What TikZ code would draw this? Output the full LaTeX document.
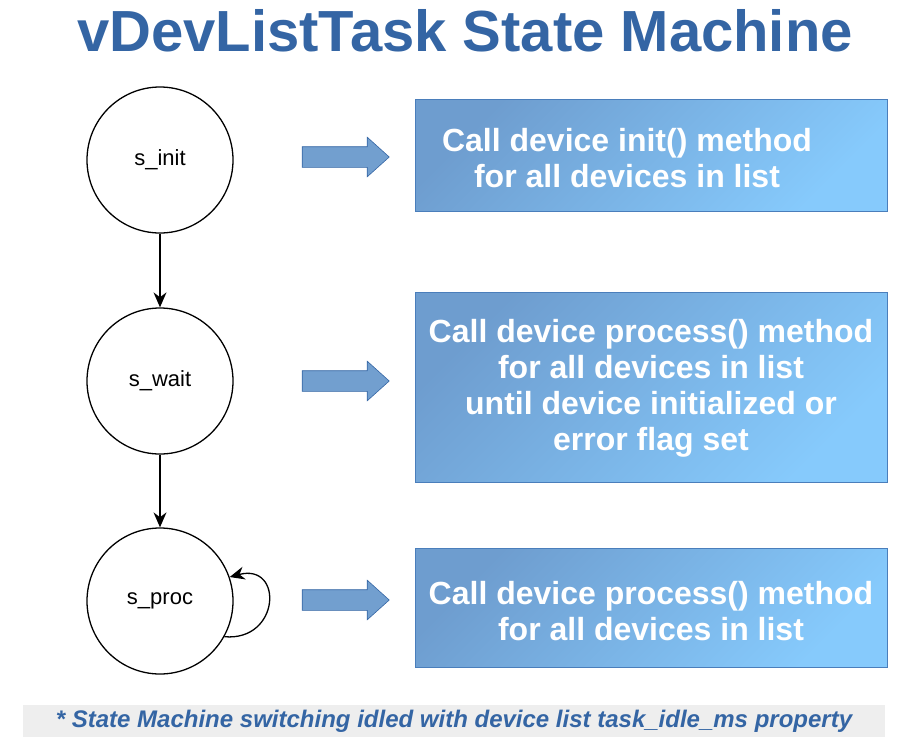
\documentclass[tikz,border=0pt]{standalone}
\usepackage{fontspec}
\setmainfont{Liberation Sans}
\usetikzlibrary{arrows.meta,shapes.arrows}
\definecolor{titleblue}{HTML}{3465A4}
\definecolor{arrowfill}{HTML}{729FCF}
\definecolor{boxdark}{HTML}{6E9DCF}
\definecolor{boxlight}{HTML}{86CAFC}
\definecolor{boxedge}{HTML}{4A7EBB}
\definecolor{notegray}{HTML}{EEEEEE}
\tikzset{
  state/.style={draw,circle,line width=1.3pt,minimum size=146pt,inner sep=0pt,
    font=\fontsize{22}{26}\selectfont},
  goarrow/.style={single arrow,draw=titleblue,line width=0.6pt,fill=arrowfill,
    minimum height=87pt,text height=0pt,text depth=0pt,inner xsep=0pt,inner ysep=10pt,
    single arrow head extend=9.5pt,single arrow tip angle=84},
  taskbox/.style={draw=boxedge,line width=0.8pt,shading=axis,left color=boxdark,
    right color=boxlight,shading angle=45,minimum width=472pt},
  boxtext/.style={text=white,align=center,font=\bfseries\fontsize{32}{36}\selectfont}
}
\begin{document}
\begin{tikzpicture}[x=1pt,y=-1pt,>={Stealth[length=15pt,width=13pt]}]
\useasboundingbox (0,0) rectangle (911,748);
\node[text=titleblue,font=\bfseries\fontsize{58}{66}\selectfont] (title) at (465,31) {vDevListTask State Machine};
% states
\node[state] (init) at (160,160) {s\_init};
\node[state] (wait) at (160,381) {s\_wait};
\node[state] (proc) at (160,601) {s\_proc};
\draw[->,line width=1.3pt] (init) -- (wait);
\draw[->,line width=1.3pt] (wait) -- (proc);
\draw[->,line width=1.3pt] (proc.-29) to[out=-5,in=15,looseness=2.4] (proc.19);
% actions
\node[goarrow] (a1) at (340,157) {};
\node[goarrow] (a2) at (340,381) {};
\node[goarrow] (a3) at (340,600) {};
\node[taskbox,minimum height=112pt] (b1) at (651,155) {};
\node[taskbox,minimum height=190pt] (b2) at (651,387) {};
\node[taskbox,minimum height=119pt] (b3) at (651,607.5) {};
\node[boxtext] (t1) at (627,158) {Call device init() method\\for all devices in list};
\node[boxtext] (t2) at (651,388) {Call device process() method\\for all devices in list\\until device initialized or\\error flag set};
\node[boxtext] (t3) at (651,611) {Call device process() method\\for all devices in list};
% note
\node[fill=notegray,minimum width=862pt,minimum height=32pt,inner sep=0pt,text=titleblue,
  font=\bfseries\itshape\fontsize{24}{28}\selectfont] (note) at (454,721)
  {* State Machine switching idled with device list task\_idle\_ms property};
\end{tikzpicture}
\end{document}
